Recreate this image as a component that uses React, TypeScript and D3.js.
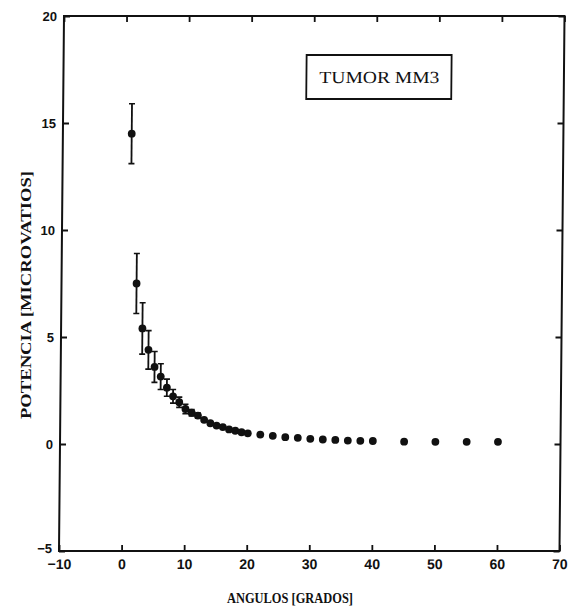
import React, { useRef, useEffect } from "react";
import * as d3 from "d3";

// angle in degrees, power in microwatts, +/- error
const ANGLES = [1, 2, 3, 4, 5, 6, 7, 8, 9, 10, 11, 12, 13, 14, 15, 16, 17, 18, 19, 20,
  22, 24, 26, 28, 30, 32, 34, 36, 38, 40, 45, 50, 55, 60];
const POWER = [14.5, 7.5, 5.4, 4.4, 3.6, 3.15, 2.63, 2.23, 1.95, 1.64, 1.46, 1.33, 1.13, 0.97,
  0.86, 0.79, 0.68, 0.62, 0.55, 0.5, 0.44, 0.38, 0.32, 0.29, 0.24, 0.21, 0.19, 0.16, 0.15,
  0.14, 0.11, 0.1, 0.1, 0.1];
const ERROR = [1.4, 1.4, 1.2, 0.9, 0.72, 0.6, 0.4, 0.32, 0.24, 0.22, 0.15, 0.12, 0, 0, 0, 0,
  0, 0, 0, 0, 0, 0, 0, 0, 0, 0, 0, 0, 0, 0, 0, 0, 0, 0];

const X_TICKS = [-10, 0, 10, 20, 30, 40, 50, 60, 70];
const Y_TICKS = [-5, 0, 5, 10, 15, 20];

const W = 569;
const H = 614;
const PLOT = { left: 59, right: 559.5, top: 16, bottom: 551 };
const SHEAR = 5 / (PLOT.bottom - PLOT.top); // scanned page is slightly sheared
const INK = "#111";
const SERIF = "'Liberation Serif', 'DejaVu Serif', serif";

export default function App() {
  const svgRef = useRef(null);

  useEffect(() => {
    const svg = d3.select(svgRef.current);
    svg.selectAll("*").remove();

    const x = d3.scaleLinear().domain([-10, 70]).range([PLOT.left, PLOT.right]);
    const y = d3.scaleLinear().domain([-5, 20]).range([PLOT.bottom, PLOT.top]);

    const data = ANGLES.map((a, i) => ({ a, p: POWER[i], e: ERROR[i] }));

    const angle = (-Math.atan(SHEAR) * 180) / Math.PI;
    const g = svg
      .append("g")
      .attr("transform", `translate(${SHEAR * PLOT.bottom},0) skewX(${angle})`);

    // frame
    g.append("rect")
      .attr("x", PLOT.left)
      .attr("y", PLOT.top)
      .attr("width", PLOT.right - PLOT.left)
      .attr("height", PLOT.bottom - PLOT.top)
      .attr("fill", "none")
      .attr("stroke", INK)
      .attr("stroke-width", 2);

    const styleAxis = (ax, size) => {
      ax.select(".domain").remove();
      ax.selectAll("line").attr("stroke", INK).attr("stroke-width", 1.8);
      ax.selectAll("text")
        .attr("fill", INK)
        .attr("font-family", "'Liberation Sans', Arial, sans-serif")
        .attr("font-weight", "bold")
        .attr("font-size", size);
    };

    const xb = g.append("g")
      .attr("transform", `translate(0,${PLOT.bottom})`)
      .call(d3.axisBottom(x).tickValues(X_TICKS).tickSize(-6).tickPadding(8).tickFormat(d3.format("d")));
    styleAxis(xb, 14);

    const xt = g.append("g")
      .attr("transform", `translate(0,${PLOT.top})`)
      .call(d3.axisTop(x).tickValues(X_TICKS).tickSize(-6).tickFormat(() => ""));
    styleAxis(xt, 14);

    const yl = g.append("g")
      .attr("transform", `translate(${PLOT.left},0)`)
      .call(d3.axisLeft(y).tickValues(Y_TICKS).tickSize(-6).tickPadding(7).tickFormat(d3.format("d")));
    styleAxis(yl, 13);
    // the lowest label sits a touch higher so it clears the "−10" below it
    yl.selectAll("text").filter((d) => d === -5).attr("dy", "0.1em");

    const yr = g.append("g")
      .attr("transform", `translate(${PLOT.right},0)`)
      .call(d3.axisRight(y).tickValues(Y_TICKS).tickSize(-6).tickFormat(() => ""));
    styleAxis(yr, 13);

    // error bars
    const bars = data.filter((d) => d.e > 0);
    g.selectAll(".err")
      .data(bars)
      .join("line")
      .attr("x1", (d) => x(d.a))
      .attr("x2", (d) => x(d.a))
      .attr("y1", (d) => y(d.p + d.e))
      .attr("y2", (d) => y(d.p - d.e))
      .attr("stroke", INK)
      .attr("stroke-width", 1.8);
    ["hi", "lo"].forEach((side) => {
      g.selectAll(`.cap-${side}`)
        .data(bars)
        .join("line")
        .attr("x1", (d) => x(d.a) - 3)
        .attr("x2", (d) => x(d.a) + 3)
        .attr("y1", (d) => y(side === "hi" ? d.p + d.e : d.p - d.e))
        .attr("y2", (d) => y(side === "hi" ? d.p + d.e : d.p - d.e))
        .attr("stroke", INK)
        .attr("stroke-width", 1.6);
    });

    // points
    g.selectAll("circle")
      .data(data)
      .join("circle")
      .attr("cx", (d) => x(d.a))
      .attr("cy", (d) => y(d.p))
      .attr("r", 3.9)
      .attr("fill", INK);

    // legend box
    g.append("rect")
      .attr("x", 302)
      .attr("y", 55)
      .attr("width", 145)
      .attr("height", 44)
      .attr("fill", "none")
      .attr("stroke", INK)
      .attr("stroke-width", 1.8);
    g.append("text")
      .attr("x", 375)
      .attr("y", 83)
      .attr("text-anchor", "middle")
      .attr("font-family", SERIF)
      .attr("font-size", 17)
      .attr("textLength", 120)
      .attr("lengthAdjust", "spacingAndGlyphs")
      .attr("fill", INK)
      .text("TUMOR MM3");

    // axis titles
    svg.append("text")
      .attr("x", 290)
      .attr("y", 603)
      .attr("text-anchor", "middle")
      .attr("font-family", SERIF)
      .attr("font-weight", "bold")
      .attr("font-size", 14)
      .attr("textLength", 126)
      .attr("lengthAdjust", "spacingAndGlyphs")
      .attr("fill", INK)
      .text("ANGULOS [GRADOS]");

    svg.append("text")
      .attr("transform", "translate(31,295) rotate(-90)")
      .attr("text-anchor", "middle")
      .attr("font-family", SERIF)
      .attr("font-weight", "bold")
      .attr("font-size", 14)
      .attr("textLength", 248)
      .attr("lengthAdjust", "spacingAndGlyphs")
      .attr("fill", INK)
      .text("POTENCIA [MICROVATIOS]");
  }, []);

  return (
    <svg
      ref={svgRef}
      width={W}
      height={H}
      style={{ position: "absolute", left: 0, top: 0, background: "#fff" }}
    />
  );
}
